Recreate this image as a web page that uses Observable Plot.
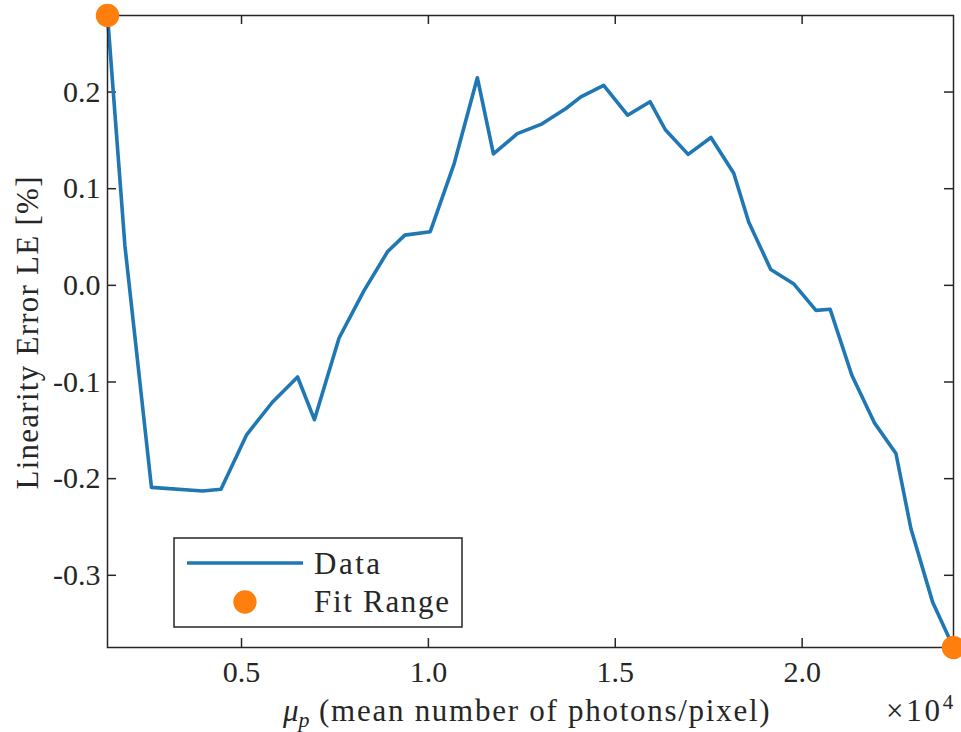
<!DOCTYPE html>
<html><head><meta charset="utf-8">
<script src="https://cdn.jsdelivr.net/npm/d3@7"></script>
<script src="https://cdn.jsdelivr.net/npm/@observablehq/plot@0.6"></script>
<style>body{margin:0;background:#fff;overflow:hidden}#chart{width:961px;height:732px}</style>
</head><body><div id="chart"></div>
<script>
// mean number of photons per pixel
const photons = [1414, 1880, 2590, 3960, 4450, 5140, 5830, 6500, 6950, 7610, 8270, 8910, 9370, 10050, 10690, 11310, 11740, 12380, 13010, 13680, 14080, 14690, 15330, 15930, 16340, 16950, 17560, 18170, 18570, 19160, 19770, 20370, 20750, 21330, 21930, 22510, 22910, 23490, 24050];
// linearity error LE [%]
const linearityError = [0.2792, 0.041, -0.209, -0.2127, -0.211, -0.1544, -0.1207, -0.0948, -0.139, -0.0545, -0.006, 0.035, 0.052, 0.0555, 0.126, 0.2148, 0.136, 0.157, 0.1665, 0.183, 0.195, 0.207, 0.176, 0.190, 0.161, 0.1355, 0.153, 0.116, 0.0655, 0.0165, 0.0017, -0.0259, -0.0248, -0.093, -0.142, -0.174, -0.2516, -0.3275, -0.3747];
const xTicks = [5000, 10000, 15000, 20000];
const yTicks = [-0.3, -0.2, -0.1, 0, 0.1, 0.2];
const seriesNames = ["Data", "Fit Range"];
const yTitle = "Linearity Error LE [%]";
const xTitleRest = " (mean number of photons/pixel)";

const data = photons.map((x, i) => ({x, y: linearityError[i]}));
const fit = [data[0], data[data.length - 1]];

const W = 961, H = 732, mL = 107, mR = 8, mT = 15, mB = 85;
const ph = H - mT - mB, pw = W - mL - mR, tk = 9;
const ink = "#262626", blue = "#1f77b4", orange = "#ff7f0e";
const font = "'Liberation Serif', serif";
const fs = 30;
const lw = 3.6;

const plot = Plot.plot({
  width: W, height: H, marginLeft: mL, marginRight: mR, marginTop: mT, marginBottom: mB,
  style: {fontFamily: font, fontSize: fs + "px", color: ink, background: "#fff", overflow: "visible"},
  x: {domain: d3.extent(photons)},
  y: {domain: d3.extent(linearityError)},
  marks: [
    Plot.tickX(xTicks, {x: d => d, insetTop: ph - tk, stroke: ink, strokeWidth: 1.5}),
    Plot.tickX(xTicks, {x: d => d, insetBottom: ph - tk, stroke: ink, strokeWidth: 1.5}),
    Plot.tickY(yTicks, {y: d => d, insetRight: pw - tk, stroke: ink, strokeWidth: 1.5}),
    Plot.tickY(yTicks, {y: d => d, insetLeft: pw - tk, stroke: ink, strokeWidth: 1.5}),
    Plot.axisX({ticks: xTicks, tickSize: 0, tickPadding: 13, tickFormat: d => (d / 1e4).toFixed(1), label: null}),
    Plot.axisY({ticks: yTicks, tickSize: 0, tickPadding: 7, tickFormat: d => d.toFixed(1), label: null}),
    Plot.line(data, {x: "x", y: "y", stroke: blue, strokeWidth: lw}),
    Plot.frame({stroke: ink, strokeWidth: 1.5}),
    Plot.dot(fit, {x: "x", y: "y", r: 11.7, fill: orange, clip: false})
  ]
});
document.getElementById("chart").appendChild(plot);

const svg = d3.select(plot);
const g = svg.append("g").attr("font-family", font).attr("font-size", 31).attr("fill", ink).attr("text-anchor", "start");
// y title
g.append("text").attr("transform", `translate(27,${mT + ph / 2 + 2}) rotate(-90)`)
  .attr("text-anchor", "middle").attr("dominant-baseline", "central")
  .attr("textLength", 313).attr("lengthAdjust", "spacing").text(yTitle);
// x title
const xt = g.append("text").attr("x", 283).attr("y", 721).attr("text-anchor", "start");
xt.append("tspan").attr("font-style", "italic").text("μ");
xt.append("tspan").attr("font-style", "italic").attr("font-size", 22).attr("dy", 6).text("p");
xt.append("tspan").attr("dy", -6).attr("textLength", 460).attr("lengthAdjust", "spacing").text(xTitleRest);
// exponent
const ex = g.append("text").attr("x", 886).attr("y", 721).attr("text-anchor", "start");
ex.append("tspan").attr("textLength", 54).attr("lengthAdjust", "spacing").text("×10");
ex.append("tspan").attr("font-size", 21).attr("dy", -12).text("4");
// legend
const lg = svg.append("g").attr("text-anchor", "start");
lg.append("rect").attr("x", 174).attr("y", 538).attr("width", 288).attr("height", 89)
  .attr("fill", "#fff").attr("stroke", ink).attr("stroke-width", 1.5);
lg.append("line").attr("x1", 187).attr("x2", 303).attr("y1", 563).attr("y2", 563)
  .attr("stroke", blue).attr("stroke-width", lw);
lg.append("circle").attr("cx", 245).attr("cy", 602).attr("r", 11.7).attr("fill", orange);
lg.append("text").attr("x", 314).attr("y", 563).attr("dominant-baseline", "central")
  .attr("font-family", font).attr("font-size", 31).attr("fill", ink)
  .attr("textLength", 66).attr("lengthAdjust", "spacing").text(seriesNames[0]);
lg.append("text").attr("x", 314).attr("y", 601).attr("dominant-baseline", "central")
  .attr("font-family", font).attr("font-size", 31).attr("fill", ink)
  .attr("textLength", 135).attr("lengthAdjust", "spacing").text(seriesNames[1]);
</script></body></html>
